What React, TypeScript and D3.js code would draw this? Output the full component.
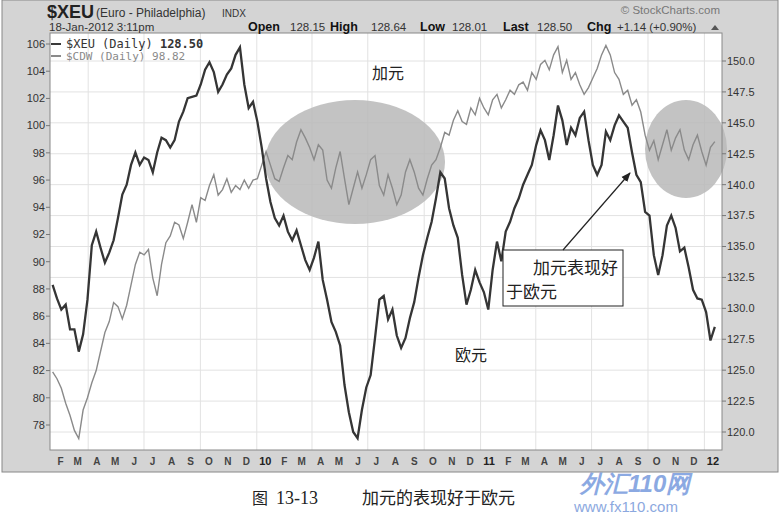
import * as d3 from "d3";

// weekly closes, Feb 2009 .. 18 Jan 2012
const xeuValues = [
  131.9, 130.8, 129.9, 130.3, 128.3, 128.3, 126.5, 127.9, 130.7, 135.1,
  136.2, 134.9, 133.7, 134.5, 135.5, 137.3, 139.2, 140.0, 141.6, 142.6,
  141.6, 142.2, 142.0, 141.0, 142.6, 143.8, 143.6, 143.0, 143.6, 145.1,
  145.9, 147.0, 147.1, 147.2, 148.1, 149.3, 149.9, 149.1, 147.5, 148.1,
  148.9, 149.4, 150.5, 151.1, 148.1, 146.2, 146.7, 145.1, 143.0, 140.5,
  138.6, 137.3, 136.7, 137.5, 136.2, 135.5, 136.3, 135.1, 133.9, 133.1,
  134.1, 135.4, 132.3, 130.7, 128.9, 128.1, 127.0, 123.8, 121.6, 120.0,
  119.5, 121.8, 123.6, 124.6, 127.6, 130.7, 131.0, 129.1, 129.9, 127.8,
  126.8, 127.6, 129.2, 130.5, 132.5, 134.3, 135.7, 137.0, 138.9, 141.0,
  140.5, 138.1, 136.7, 135.7, 132.7, 130.3, 131.5, 133.1, 132.1, 131.3,
  129.9, 133.1, 135.4, 133.8, 136.2, 137.0, 138.1, 138.9, 140.0, 140.8,
  141.6, 143.2, 144.4, 143.6, 142.0, 144.0, 146.4, 145.2, 143.2, 144.6,
  144.0, 145.4, 145.9, 143.6, 141.6, 140.8, 141.6, 144.3, 143.6, 144.8,
  145.6, 145.1, 144.6, 142.6, 140.8, 140.2, 137.8, 137.5, 134.3, 132.7,
  134.3, 136.7, 137.5, 136.5, 134.6, 134.9, 133.3, 131.5, 130.8, 130.7,
  129.7, 127.4, 128.5,
];

const cdwValues = [
  81.9, 81.4, 80.7, 79.6, 78.7, 77.6, 77.0, 79.1, 80.0, 81.1,
  82.0, 83.4, 84.8, 85.6, 87.0, 86.7, 85.8, 86.8, 88.3, 89.8,
  90.7, 90.5, 90.9, 88.8, 87.5, 89.8, 91.4, 91.9, 92.9, 92.7,
  91.7, 92.9, 94.2, 92.9, 94.7, 94.5, 95.6, 96.4, 94.9, 95.3,
  96.1, 95.1, 95.6, 95.3, 96.0, 95.4, 96.0, 96.1, 97.1, 98.1,
  97.1, 96.1, 95.9, 96.9, 97.8, 97.5, 98.8, 99.7, 99.1, 98.4,
  97.5, 98.6, 98.2, 96.0, 95.4, 96.9, 98.1, 96.1, 94.2, 95.4,
  96.6, 95.4, 96.4, 97.5, 97.8, 95.6, 94.9, 96.4, 95.4, 94.2,
  94.9, 96.6, 97.5, 96.6, 95.4, 94.9, 96.1, 97.1, 97.5, 98.4,
  99.5, 99.3, 100.4, 101.1, 100.3, 100.1, 101.3, 100.8, 102.0, 101.3,
  100.8, 101.9, 102.3, 101.3, 101.9, 102.6, 102.3, 103.0, 103.2, 102.6,
  103.9, 103.4, 104.5, 104.8, 104.1, 105.2, 105.8, 103.9, 104.8, 103.4,
  103.9, 103.0, 102.3, 102.8, 103.5, 104.2, 105.2, 105.9, 105.2, 103.9,
  103.4, 102.3, 102.6, 101.5, 101.9, 101.0, 99.3, 98.2, 98.9, 97.5,
  98.6, 99.7, 98.2, 99.1, 99.7, 98.2, 97.5, 98.6, 99.3, 98.1,
  97.1, 98.4, 98.82,
];

const firstDate = new Date(2009, 1, 2);
const lastDate = new Date(2012, 0, 18);

const leftTicks = [78, 80, 82, 84, 86, 88, 90, 92, 94, 96, 98, 100, 102, 104, 106];
const rightTicks = [120, 122.5, 125, 127.5, 130, 132.5, 135, 137.5, 140, 142.5, 145, 147.5, 150];
const monthLetters = ["J", "F", "M", "A", "M", "J", "J", "A", "S", "O", "N", "D"];

const quoteKeys = ["Open", "High", "Low", "Last", "Chg"];
const quoteVals = ["128.15", "128.64", "128.01", "128.50", "+1.14 (+0.90%)"];
const quoteKeyX = [248, 330, 420, 503, 587];
const quoteValX = [290, 371, 452, 537, 617];

const W = 781;
const H = 514;
const plot = { left: 50, right: 722, top: 33, bottom: 450 };
const sans = "'Liberation Sans', Arial, sans-serif";
const mono = "'DejaVu Sans Mono', monospace";
const cjk = "'Noto Sans CJK SC', sans-serif";

export default function App() {
  const step = (lastDate.getTime() - firstDate.getTime()) / (xeuValues.length - 1);
  const dates = xeuValues.map((_, i) => new Date(firstDate.getTime() + i * step));

  const x = d3
    .scaleTime()
    .domain([new Date(2009, 1, 1), new Date(2012, 0, 1)])
    .range([52, 704.4]);
  const yLeft = d3.scaleLinear().domain([78, 106]).range([425, 44]);
  const yRight = d3.scaleLinear().domain([120, 150]).range([432, 61]);

  const xeuLine = d3
    .line<number>()
    .x((_, i) => x(dates[i]))
    .y((d) => yRight(d));
  const cdwLine = d3
    .line<number>()
    .x((_, i) => x(dates[i]))
    .y((d) => yLeft(d));

  const months = d3.timeMonth.range(new Date(2009, 1, 1), new Date(2012, 0, 2));
  const quarters = months.filter((m) => m.getMonth() % 3 === 0);

  return (
    <svg
      width={W}
      height={H}
      style={{ position: "absolute", left: 0, top: 0, background: "#fff" }}
      fontFamily={sans}
    >
      {/* chart panel */}
      <rect x={2} y={0} width={776} height={472} fill="#d4d4d4" stroke="#888" />
      <rect
        x={plot.left}
        y={plot.top}
        width={plot.right - plot.left}
        height={plot.bottom - plot.top}
        fill="#fff"
      />

      {/* grid */}
      {rightTicks.map((t) => (
        <line key={"h" + t} x1={plot.left} x2={plot.right} y1={yRight(t)} y2={yRight(t)} stroke="#e2e2e2" />
      ))}
      {quarters.map((q) => (
        <line key={"v" + q.getTime()} x1={x(q)} x2={x(q)} y1={plot.top} y2={plot.bottom} stroke="#e2e2e2" />
      ))}

      {/* highlight ellipses */}
      <ellipse cx={355} cy={162} rx={90} ry={62} fill="#b8b8b8" opacity={0.85} />
      <ellipse cx={686} cy={149} rx={41} ry={49} fill="#b8b8b8" opacity={0.85} />

      <path d={cdwLine(cdwValues) ?? ""} fill="none" stroke="#8a8a8a" strokeWidth={1.4} />
      <path d={xeuLine(xeuValues) ?? ""} fill="none" stroke="#353535" strokeWidth={2.3} />

      <rect
        x={plot.left}
        y={plot.top}
        width={plot.right - plot.left}
        height={plot.bottom - plot.top}
        fill="none"
        stroke="#888"
      />

      {/* left axis (CDW) */}
      {leftTicks.map((t) => (
        <g key={"l" + t}>
          <line x1={plot.left - 4} x2={plot.left} y1={yLeft(t)} y2={yLeft(t)} stroke="#777" />
          <text x={plot.left - 5} y={yLeft(t)} dy="0.35em" textAnchor="end" fontSize={11} fill="#333">
            {t}
          </text>
        </g>
      ))}

      {/* right axis (XEU) */}
      {rightTicks.map((t) => (
        <g key={"r" + t}>
          <line x1={plot.right} x2={plot.right + 4} y1={yRight(t)} y2={yRight(t)} stroke="#777" />
          <text x={plot.right + 5} y={yRight(t)} dy="0.35em" fontSize={11} fill="#333">
            {t.toFixed(1)}
          </text>
        </g>
      ))}

      {/* month labels */}
      {months.map((m) => {
        const jan = m.getMonth() === 0;
        const label = jan ? String(m.getFullYear()).slice(2) : monthLetters[m.getMonth()];
        return (
          <text
            key={"m" + m.getTime()}
            x={x(d3.timeDay.offset(m, 14))}
            y={465}
            textAnchor="middle"
            fontSize={jan ? 11 : 10}
            fontWeight="bold"
            fill={jan ? "#222" : "#444"}
          >
            {label}
          </text>
        );
      })}

      {/* header */}
      <text x={47} y={18} fontSize={18} fontWeight="bold" fill="#222">
        $XEU
      </text>
      <text x={96} y={17} fontSize={12} fill="#333">
        (Euro - Philadelphia)
      </text>
      <text x={222} y={17} fontSize={10} fill="#333">
        INDX
      </text>
      <text x={49} y={31} fontSize={11.5} fill="#333">
        18-Jan-2012 3:11pm
      </text>
      {quoteKeys.map((k, i) => (
        <g key={k}>
          <text x={quoteKeyX[i]} y={31} fontSize={12.5} fontWeight="bold" fill="#111">
            {k}
          </text>
          <text x={quoteValX[i]} y={31} fontSize={11.5} fill="#333">
            {quoteVals[i]}
          </text>
        </g>
      ))}
      <path d="M711,30 L715,25 L719,30 z" fill="#555" />
      <text x={720} y={14} textAnchor="end" fontSize={11.5} fill="#777">
        © StockCharts.com
      </text>

      {/* legend */}
      <line x1={51} x2={61} y1={44} y2={44} stroke="#3a3a3a" strokeWidth={2} />
      <text x={66} y={48} fontSize={12} fontFamily={mono} fill="#333">
        $XEU (Daily) <tspan fontWeight="bold">128.50</tspan>
      </text>
      <line x1={51} x2={61} y1={56} y2={56} stroke="#8a8a8a" strokeWidth={2} />
      <text x={66} y={60} fontSize={11} fontFamily={mono} fill="#8a8a8a">
        $CDW (Daily) 98.82
      </text>

      {/* annotations */}
      <text x={372} y={79} fontSize={16} fontFamily={cjk} fill="#222">
        加元
      </text>
      <text x={455} y={361} fontSize={16} fontFamily={cjk} fill="#222">
        欧元
      </text>
      <rect x={503} y={250} width={120} height={56} fill="#fff" stroke="#222" />
      <text x={618} y={274} textAnchor="end" fontSize={17} fontFamily={cjk} fill="#222">
        加元表现好
      </text>
      <text x={506} y={298} fontSize={17} fontFamily={cjk} fill="#222">
        于欧元
      </text>
      <defs>
        <marker id="arr" viewBox="0 0 10 10" refX={9} refY={5} markerWidth={8} markerHeight={8} orient="auto">
          <path d="M0,1 L10,5 L0,9 z" fill="#222" />
        </marker>
      </defs>
      <line x1={563} y1={250} x2={630} y2={173} stroke="#222" strokeWidth={1.2} markerEnd="url(#arr)" />

      {/* watermark */}
      <text x={580} y={492} fontSize={24} fontWeight="bold" fontStyle="italic" fill="#5b86d6" opacity={0.7}>
        外汇110网
      </text>
      <text x={574} y={512} fontSize={15} fill="#6f93d8" opacity={0.8}>
        www.fx110.com
      </text>

      {/* caption */}
      <text x={252} y={504} fontSize={16} fontFamily={cjk} fill="#222">
        图
      </text>
      <text x={276} y={504} fontSize={18} fontFamily="'Liberation Serif', serif" fill="#222">
        13-13
      </text>
      <text x={362} y={504} fontSize={17} fontFamily={cjk} fill="#222">
        加元的表现好于欧元
      </text>
    </svg>
  );
}
